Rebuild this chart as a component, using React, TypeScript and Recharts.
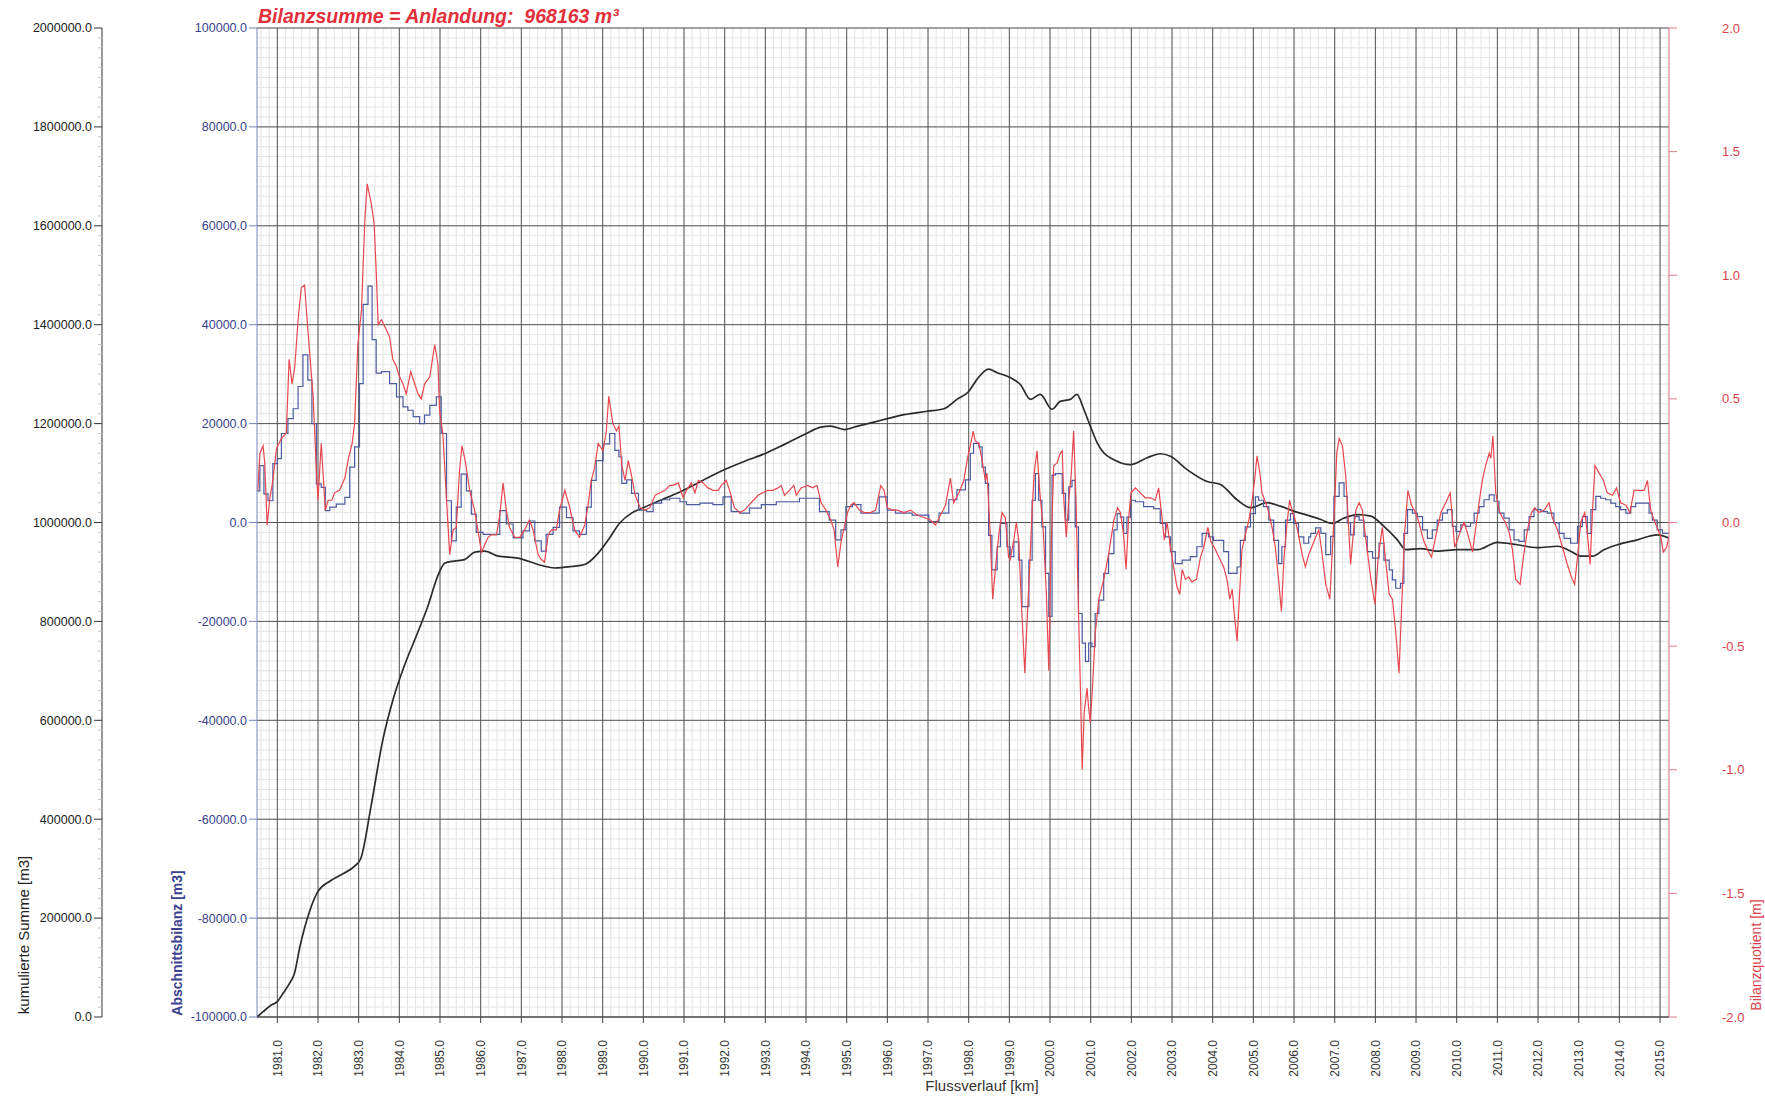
import React from 'react';
import { ComposedChart, Line, XAxis, YAxis, CartesianGrid } from 'recharts';

// Bilanzquotient [m] – red line, right axis
const quotient: [number, number][] = [
  [1980.52, 0.13], [1980.57, 0.28], [1980.65, 0.31], [1980.69, 0.24], [1980.75, -0.01], [1980.81, 0.09],
  [1980.89, 0.17], [1980.98, 0.3], [1981.1, 0.34], [1981.22, 0.36], [1981.29, 0.66], [1981.36, 0.56],
  [1981.43, 0.63], [1981.51, 0.82], [1981.59, 0.95], [1981.67, 0.96], [1981.75, 0.78], [1981.88, 0.51],
  [1981.96, 0.21], [1982.0, 0.09], [1982.08, 0.32], [1982.12, 0.21], [1982.18, 0.05], [1982.25, 0.09],
  [1982.34, 0.09], [1982.41, 0.12], [1982.53, 0.13], [1982.66, 0.18], [1982.75, 0.26], [1982.84, 0.32],
  [1982.9, 0.4], [1982.98, 0.72], [1983.07, 0.86], [1983.15, 1.22], [1983.21, 1.37], [1983.31, 1.29],
  [1983.38, 1.21], [1983.43, 1.02], [1983.48, 0.8], [1983.56, 0.82], [1983.68, 0.78], [1983.76, 0.75],
  [1983.84, 0.66], [1983.93, 0.63], [1983.98, 0.6], [1984.09, 0.56], [1984.17, 0.52], [1984.28, 0.61],
  [1984.38, 0.56], [1984.46, 0.52], [1984.54, 0.5], [1984.62, 0.56], [1984.75, 0.59], [1984.87, 0.72],
  [1984.95, 0.64], [1984.99, 0.45], [1985.07, 0.36], [1985.16, 0.09], [1985.24, -0.13], [1985.32, -0.03],
  [1985.4, -0.02], [1985.48, 0.21], [1985.54, 0.31], [1985.62, 0.25], [1985.73, 0.13], [1985.85, 0.05],
  [1985.93, -0.03], [1986.02, -0.12], [1986.1, -0.09], [1986.18, -0.06], [1986.26, -0.05], [1986.39, -0.05],
  [1986.47, 0.03], [1986.55, 0.16], [1986.63, 0.05], [1986.71, -0.02], [1986.84, -0.06], [1986.96, -0.06],
  [1987.08, -0.03], [1987.2, 0.01], [1987.29, -0.03], [1987.41, -0.13], [1987.49, -0.15], [1987.57, -0.16],
  [1987.66, -0.05], [1987.74, -0.03], [1987.86, -0.03], [1987.94, 0.05], [1988.07, 0.13], [1988.19, 0.06],
  [1988.31, -0.03], [1988.43, -0.06], [1988.56, -0.01], [1988.64, 0.07], [1988.72, 0.17], [1988.8, 0.22],
  [1988.89, 0.32], [1989.01, 0.29], [1989.09, 0.37], [1989.15, 0.51], [1989.25, 0.4], [1989.34, 0.37],
  [1989.4, 0.39], [1989.47, 0.23], [1989.55, 0.17], [1989.63, 0.25], [1989.71, 0.19], [1989.8, 0.11],
  [1989.92, 0.06], [1990.04, 0.05], [1990.16, 0.06], [1990.29, 0.11], [1990.41, 0.12], [1990.53, 0.13],
  [1990.65, 0.15], [1990.73, 0.15], [1990.86, 0.16], [1990.98, 0.1], [1991.06, 0.13], [1991.18, 0.16],
  [1991.27, 0.12], [1991.35, 0.17], [1991.47, 0.16], [1991.59, 0.14], [1991.71, 0.13], [1991.84, 0.13],
  [1991.92, 0.15], [1992.04, 0.17], [1992.12, 0.13], [1992.24, 0.06], [1992.37, 0.04], [1992.49, 0.05],
  [1992.65, 0.08], [1992.82, 0.11], [1992.94, 0.12], [1993.06, 0.13], [1993.18, 0.13], [1993.31, 0.14],
  [1993.39, 0.15], [1993.47, 0.11], [1993.59, 0.13], [1993.7, 0.15], [1993.76, 0.11], [1993.88, 0.14],
  [1994.04, 0.15], [1994.16, 0.14], [1994.27, 0.15], [1994.37, 0.08], [1994.49, 0.05], [1994.61, 0.01],
  [1994.69, -0.03], [1994.78, -0.18], [1994.86, -0.08], [1994.94, -0.02], [1995.02, 0.04], [1995.1, 0.07],
  [1995.18, 0.08], [1995.31, 0.05], [1995.43, 0.04], [1995.59, 0.04], [1995.71, 0.05], [1995.84, 0.15],
  [1995.92, 0.13], [1996.0, 0.06], [1996.12, 0.05], [1996.24, 0.05], [1996.41, 0.04], [1996.57, 0.05],
  [1996.73, 0.03], [1996.9, 0.02], [1997.06, 0.01], [1997.18, -0.01], [1997.31, 0.03], [1997.43, 0.07],
  [1997.55, 0.18], [1997.63, 0.08], [1997.76, 0.12], [1997.88, 0.17], [1997.96, 0.25], [1998.04, 0.31],
  [1998.11, 0.37], [1998.16, 0.33], [1998.25, 0.32], [1998.33, 0.25], [1998.41, 0.17], [1998.45, 0.2],
  [1998.53, -0.05], [1998.59, -0.31], [1998.66, -0.18], [1998.74, -0.05], [1998.82, 0.04], [1998.9, 0.02],
  [1998.98, -0.14], [1999.02, -0.15], [1999.11, -0.07], [1999.17, 0.0], [1999.23, -0.07], [1999.3, -0.34],
  [1999.38, -0.61], [1999.43, -0.42], [1999.5, -0.18], [1999.56, 0.05], [1999.61, 0.2], [1999.68, 0.29],
  [1999.75, 0.12], [1999.83, -0.02], [1999.91, -0.29], [1999.97, -0.6], [2000.02, -0.15], [2000.09, 0.23],
  [2000.17, 0.24], [2000.25, 0.28], [2000.3, 0.29], [2000.34, 0.09], [2000.4, -0.06], [2000.46, 0.09],
  [2000.52, 0.19], [2000.58, 0.37], [2000.64, 0.09], [2000.69, -0.29], [2000.75, -0.69], [2000.79, -1.0],
  [2000.84, -0.77], [2000.91, -0.67], [2000.95, -0.75], [2000.99, -0.81], [2001.05, -0.65], [2001.11, -0.45],
  [2001.2, -0.31], [2001.32, -0.23], [2001.44, -0.13], [2001.57, 0.01], [2001.66, 0.06], [2001.73, 0.04],
  [2001.81, -0.05], [2001.87, -0.19], [2001.93, 0.01], [2001.99, 0.12], [2002.1, 0.14], [2002.22, 0.12],
  [2002.34, 0.1], [2002.47, 0.1], [2002.59, 0.09], [2002.67, 0.14], [2002.74, 0.04], [2002.81, -0.07],
  [2002.88, 0.0], [2002.96, -0.1], [2003.04, -0.18], [2003.12, -0.26], [2003.19, -0.29], [2003.25, -0.19],
  [2003.33, -0.23], [2003.41, -0.22], [2003.49, -0.24], [2003.6, -0.23], [2003.7, -0.14], [2003.78, -0.1],
  [2003.88, -0.02], [2003.96, -0.08], [2004.04, -0.1], [2004.15, -0.14], [2004.27, -0.18], [2004.35, -0.23],
  [2004.42, -0.31], [2004.48, -0.27], [2004.53, -0.37], [2004.6, -0.48], [2004.66, -0.29], [2004.72, -0.11],
  [2004.8, -0.05], [2004.89, 0.01], [2004.97, 0.09], [2005.03, 0.17], [2005.09, 0.27], [2005.16, 0.2],
  [2005.21, 0.12], [2005.3, 0.08], [2005.38, 0.04], [2005.46, -0.02], [2005.54, -0.1], [2005.62, -0.23],
  [2005.69, -0.36], [2005.75, -0.15], [2005.83, 0.0], [2005.89, 0.09], [2005.95, 0.05], [2006.03, 0.01],
  [2006.11, -0.05], [2006.2, -0.13], [2006.28, -0.18], [2006.36, -0.13], [2006.41, -0.11], [2006.53, -0.06],
  [2006.61, -0.03], [2006.7, -0.14], [2006.78, -0.25], [2006.88, -0.31], [2006.94, -0.12], [2007.0, 0.08],
  [2007.05, 0.28], [2007.11, 0.34], [2007.19, 0.31], [2007.27, 0.19], [2007.33, 0.02], [2007.39, -0.17],
  [2007.46, -0.04], [2007.52, 0.05], [2007.6, 0.08], [2007.68, 0.05], [2007.76, -0.06], [2007.89, -0.23],
  [2007.99, -0.33], [2008.07, -0.14], [2008.17, -0.02], [2008.25, -0.15], [2008.34, -0.29], [2008.42, -0.31],
  [2008.5, -0.44], [2008.58, -0.61], [2008.65, -0.33], [2008.72, -0.04], [2008.8, 0.13], [2008.89, 0.07],
  [2008.99, 0.04], [2009.07, 0.0], [2009.18, -0.07], [2009.28, -0.11], [2009.38, -0.14], [2009.48, -0.06],
  [2009.61, 0.04], [2009.73, 0.08], [2009.84, 0.12], [2009.89, 0.02], [2009.95, -0.1], [2010.02, -0.07],
  [2010.1, -0.03], [2010.18, 0.0], [2010.26, -0.04], [2010.39, -0.12], [2010.47, -0.02], [2010.55, 0.08],
  [2010.63, 0.17], [2010.71, 0.23], [2010.8, 0.28], [2010.84, 0.26], [2010.89, 0.35], [2010.96, 0.12],
  [2011.04, 0.05], [2011.12, 0.02], [2011.2, 0.0], [2011.29, -0.04], [2011.37, -0.11], [2011.45, -0.23],
  [2011.56, -0.25], [2011.64, -0.14], [2011.74, -0.03], [2011.84, 0.04], [2011.92, 0.06], [2012.02, 0.04],
  [2012.15, 0.05], [2012.27, 0.08], [2012.35, 0.02], [2012.48, -0.03], [2012.6, -0.1], [2012.72, -0.17],
  [2012.82, -0.22], [2012.9, -0.25], [2012.97, -0.14], [2013.05, 0.0], [2013.15, 0.04], [2013.21, -0.04],
  [2013.28, -0.17], [2013.34, 0.05], [2013.4, 0.23], [2013.5, 0.2], [2013.61, 0.17], [2013.7, 0.12],
  [2013.83, 0.11], [2013.93, 0.14], [2014.03, 0.08], [2014.16, 0.07], [2014.26, 0.04], [2014.36, 0.13],
  [2014.48, 0.13], [2014.61, 0.13], [2014.69, 0.17], [2014.77, 0.05], [2014.85, 0.01], [2014.93, -0.02],
  [2015.02, -0.06], [2015.08, -0.12], [2015.16, -0.1], [2015.22, -0.06],
];

// Abschnittsbilanz [m3] – blue step line, value holds until the next year entry
const abschnitt: [number, number][] = [
  [1980.5, 6400], [1980.57, 11500], [1980.67, 5800], [1980.77, 4400], [1980.89, 11900], [1981.0, 12900],
  [1981.1, 18000], [1981.26, 21000], [1981.39, 23000], [1981.51, 27500], [1981.63, 33900], [1981.75, 28800],
  [1981.85, 20000], [1981.96, 7800], [1982.08, 7100], [1982.18, 2400], [1982.29, 3100], [1982.45, 3700],
  [1982.66, 5100], [1982.78, 11200], [1982.9, 15300], [1983.02, 28100], [1983.11, 44100], [1983.23, 47800],
  [1983.33, 37000], [1983.43, 30200], [1983.56, 30500], [1983.76, 28100], [1983.93, 25400], [1984.09, 23400],
  [1984.21, 22700], [1984.34, 21400], [1984.5, 20000], [1984.62, 21700], [1984.75, 23700], [1984.91, 25400],
  [1985.03, 18000], [1985.16, 4400], [1985.28, -3700], [1985.4, 3100], [1985.52, 9800], [1985.65, 6400],
  [1985.77, 1700], [1985.89, -2000], [1986.06, -2400], [1986.47, 2400], [1986.63, -300], [1986.8, -3100],
  [1987.04, -1700], [1987.2, 300], [1987.33, -3700], [1987.49, -5800], [1987.61, -2400], [1987.78, -1000],
  [1987.94, 3100], [1988.11, 1000], [1988.27, -1700], [1988.43, -2400], [1988.6, 3100], [1988.72, 8500],
  [1988.84, 12500], [1989.01, 15900], [1989.17, 18000], [1989.3, 14600], [1989.4, 13300], [1989.47, 7900],
  [1989.59, 8600], [1989.71, 5900], [1989.88, 2500], [1990.08, 2200], [1990.24, 3900], [1990.45, 4600],
  [1990.65, 4900], [1990.9, 4200], [1991.06, 3600], [1991.39, 3900], [1991.71, 3600], [1991.96, 5200],
  [1992.16, 2200], [1992.37, 1900], [1992.61, 2900], [1992.9, 3600], [1993.27, 4200], [1993.84, 4900],
  [1994.33, 2200], [1994.57, 500], [1994.73, -3500], [1994.86, -1500], [1994.98, 3200], [1995.14, 3600],
  [1995.35, 1900], [1995.8, 5200], [1996.0, 2500], [1996.2, 1900], [1996.61, 1500], [1997.02, 200],
  [1997.27, 1900], [1997.51, 4600], [1997.71, 6600], [1997.92, 8600], [1998.04, 14000], [1998.12, 16000],
  [1998.25, 15300], [1998.33, 11200], [1998.41, 7900], [1998.49, -2600], [1998.57, -9600], [1998.7, -4900],
  [1998.78, -200], [1998.94, -4900], [1999.02, -6900], [1999.11, -3900], [1999.23, -7600], [1999.31, -17000],
  [1999.48, -7600], [1999.56, 4500], [1999.64, 9900], [1999.72, 4500], [1999.8, -900], [1999.89, -10300],
  [1999.97, -19000], [2000.05, 9600], [2000.13, 9900], [2000.3, 5900], [2000.38, 500], [2000.46, 7200],
  [2000.54, 8500], [2000.62, -900], [2000.7, -18400], [2000.79, -24400], [2000.87, -28100], [2000.95, -24400],
  [2001.03, -25100], [2001.11, -18400], [2001.2, -15700], [2001.32, -10300], [2001.44, -6300], [2001.57, -1500],
  [2001.65, 1800], [2001.73, 1100], [2001.81, -2200], [2001.89, 1100], [2001.98, 4500], [2002.1, 4200],
  [2002.3, 3200], [2002.55, 2800], [2002.71, -200], [2002.84, -2900], [2002.96, -5900], [2003.08, -8300],
  [2003.25, -7600], [2003.45, -6900], [2003.61, -4900], [2003.74, -2200], [2003.9, -2900], [2004.02, -3600],
  [2004.27, -5900], [2004.39, -10300], [2004.6, -9000], [2004.68, -3600], [2004.8, -900], [2004.93, 1800],
  [2005.05, 5200], [2005.13, 4500], [2005.25, 3200], [2005.38, 500], [2005.5, -3600], [2005.62, -8300],
  [2005.7, -4900], [2005.79, 500], [2005.91, 1800], [2005.99, -200], [2006.11, -2900], [2006.24, -4200],
  [2006.36, -2900], [2006.41, -2200], [2006.53, -1100], [2006.66, -2200], [2006.78, -6500], [2006.9, -2800],
  [2006.98, 5300], [2007.11, 8000], [2007.23, 5300], [2007.31, -100], [2007.39, -2500], [2007.48, 1200],
  [2007.6, 500], [2007.72, -2800], [2007.8, -5900], [2007.93, -7200], [2008.09, -4200], [2008.21, -7600],
  [2008.34, -9600], [2008.42, -11600], [2008.5, -13300], [2008.62, -12300], [2008.7, -2200], [2008.79, 2600],
  [2008.91, 1900], [2009.03, 1200], [2009.16, -1500], [2009.28, -3200], [2009.4, -1500], [2009.52, 500],
  [2009.65, 1900], [2009.77, 2600], [2009.89, -800], [2009.98, -1800], [2010.1, -500], [2010.22, -800],
  [2010.34, -100], [2010.43, 1900], [2010.55, 3200], [2010.67, 4600], [2010.8, 5600], [2010.92, 4300],
  [2011.04, 1900], [2011.16, 900], [2011.29, -1500], [2011.41, -3500], [2011.53, -3800], [2011.66, -1500],
  [2011.78, 1200], [2011.9, 2600], [2012.07, 2200], [2012.23, 1900], [2012.39, -100], [2012.52, -2200],
  [2012.64, -3200], [2012.8, -4200], [2012.97, -800], [2013.09, 1200], [2013.21, -2200], [2013.3, 2600],
  [2013.42, 5300], [2013.54, 4900], [2013.66, 4600], [2013.79, 3900], [2013.91, 3200], [2014.03, 2600],
  [2014.16, 1900], [2014.28, 3200], [2014.4, 3900], [2014.73, 1900], [2014.81, 500], [2014.93, -1500],
  [2015.06, -2200], [2015.22, -2200],
];

// kumulierte Summe [m3] – black line, outer left axis
const kumuliert: [number, number][] = [
  [1980.5, 0], [1980.65, 10700], [1980.85, 24300], [1981.0, 31000], [1981.14, 48000], [1981.3, 68000],
  [1981.42, 88000], [1981.56, 144000], [1981.79, 213000], [1982.0, 254000], [1982.3, 275000], [1982.6, 289000],
  [1982.9, 305000], [1983.05, 320000], [1983.31, 429000], [1983.58, 555000], [1983.86, 646000], [1984.14, 714000],
  [1984.42, 771000], [1984.69, 828000], [1984.97, 897000], [1985.12, 918000], [1985.35, 922000], [1985.6, 925000],
  [1985.86, 940000], [1986.1, 942000], [1986.43, 932000], [1986.92, 928000], [1987.41, 915000], [1987.82, 908000],
  [1988.24, 911000], [1988.56, 915000], [1988.89, 938000], [1989.14, 965000], [1989.42, 999000], [1989.71, 1019000],
  [1990.0, 1030000], [1990.45, 1046000], [1990.86, 1060000], [1991.27, 1077000], [1991.67, 1094000], [1992.0, 1107000],
  [1992.49, 1124000], [1992.98, 1139000], [1993.47, 1158000], [1993.96, 1178000], [1994.37, 1193000], [1994.61, 1195000],
  [1994.94, 1188000], [1995.27, 1195000], [1995.67, 1203000], [1996.0, 1210000], [1996.41, 1218000], [1996.98, 1225000],
  [1997.39, 1230000], [1997.71, 1249000], [1998.0, 1265000], [1998.2, 1289000], [1998.49, 1310000], [1998.7, 1303000],
  [1999.02, 1293000], [1999.27, 1279000], [1999.52, 1249000], [1999.76, 1259000], [2000.05, 1229000], [2000.25, 1245000],
  [2000.5, 1249000], [2000.66, 1259000], [2000.83, 1229000], [2000.99, 1195000], [2001.16, 1161000], [2001.32, 1141000],
  [2001.57, 1127000], [2001.98, 1117000], [2002.39, 1131000], [2002.71, 1139000], [2002.96, 1134000], [2003.37, 1107000],
  [2003.86, 1083000], [2004.19, 1077000], [2004.6, 1046000], [2004.93, 1030000], [2005.34, 1040000], [2005.66, 1033000],
  [2005.99, 1023000], [2006.4, 1013000], [2006.66, 1006000], [2006.94, 998000], [2007.23, 1009000], [2007.56, 1016000],
  [2007.89, 1013000], [2008.21, 992000], [2008.54, 965000], [2008.75, 945000], [2009.11, 947000], [2009.52, 942000],
  [2010.02, 945000], [2010.51, 945000], [2011.0, 960000], [2011.49, 955000], [2011.98, 949000], [2012.48, 952000],
  [2012.8, 942000], [2013.05, 932000], [2013.34, 932000], [2013.62, 945000], [2013.95, 955000], [2014.44, 965000],
  [2014.93, 975000], [2015.22, 968163],
];

const yearTicks = [
  1981, 1982, 1983, 1984, 1985, 1986, 1987, 1988, 1989, 1990, 1991, 1992, 1993, 1994, 1995, 1996, 1997, 1998,
  1999, 2000, 2001, 2002, 2003, 2004, 2005, 2006, 2007, 2008, 2009, 2010, 2011, 2012, 2013, 2014, 2015,
];
const bilanzTicks = [-100000, -80000, -60000, -40000, -20000, 0, 20000, 40000, 60000, 80000, 100000];
const quotientTicks = [-2, -1.5, -1, -0.5, 0, 0.5, 1, 1.5, 2];
const cumTicks = Array.from({ length: 101 }, (_, i) => i * 20000);

// fine grid of the graph paper
const minorY = Array.from({ length: 101 }, (_, i) => -100000 + i * 2000);
const minorX = Array.from({ length: 174 }, (_, i) => 1980.6 + i * 0.2);

const quotData = quotient.map(([year, q]) => ({ year, q }));
const bilData = abschnitt.map(([year, v]) => ({ year, v }));
const cumData = kumuliert.map(([year, c]) => ({ year, c }));

const BLUE = '#3a3f8f';
const RED = '#dc3f4d';

const YearTick = ({ x, y, payload }: any) => (
  <text x={x} y={y} transform={`rotate(-90 ${x} ${y})`} textAnchor="end" dy="0.35em" fontSize={12} fill="#333">
    {Number(payload.value).toFixed(1)}
  </text>
);

const CumTick = ({ x, y, payload }: any) => {
  const major = payload.value % 200000 === 0;
  return (
    <g>
      <line x1={x + (major ? 2 : 6)} x2={x + 10} y1={y} y2={y} stroke={major ? '#333' : '#c4c4c4'} />
      {major && (
        <text x={x} y={y} dy="0.35em" textAnchor="end" fontSize={12.5} fill="#222">
          {Number(payload.value).toFixed(1)}
        </text>
      )}
    </g>
  );
};

export default function App() {
  return (
    <div
      style={{
        position: 'absolute',
        left: 0,
        top: 0,
        width: 1765,
        height: 1100,
        background: '#fff',
        fontFamily: "'Liberation Sans', Arial, sans-serif",
      }}
    >
      <ComposedChart width={1765} height={1100} margin={{ top: 28, right: 0, bottom: 0, left: 0 }}>
        <CartesianGrid xAxisId="x" yAxisId="bil" horizontalValues={minorY} verticalValues={minorX} stroke="#e3e3e3" />
        <CartesianGrid xAxisId="x" yAxisId="bil" horizontalValues={bilanzTicks} verticalValues={yearTicks} stroke="#555" />
        <XAxis
          xAxisId="x"
          dataKey="year"
          type="number"
          domain={[1980.5, 2015.22]}
          allowDataOverflow
          ticks={yearTicks}
          interval={0}
          height={83}
          tickSize={6}
          tickMargin={17}
          tick={<YearTick />}
          stroke="#444"
        />
        <YAxis
          yAxisId="bil"
          orientation="left"
          type="number"
          domain={[-100000, 100000]}
          ticks={bilanzTicks}
          interval={0}
          width={155}
          tickSize={8}
          tickMargin={2}
          tickFormatter={(v: number) => v.toFixed(1)}
          tick={{ fill: BLUE, fontSize: 12.5 }}
          stroke="#7a82c0"
        />
        <YAxis
          yAxisId="cum"
          orientation="left"
          type="number"
          domain={[0, 2000000]}
          ticks={cumTicks}
          interval={0}
          width={102}
          tickSize={8}
          tickMargin={2}
          tickLine={false}
          tick={<CumTick />}
          stroke="#333"
        />
        <YAxis
          yAxisId="q"
          orientation="right"
          type="number"
          domain={[-2, 2]}
          ticks={quotientTicks}
          interval={0}
          width={96}
          tickSize={8}
          tickMargin={45}
          tickFormatter={(v: number) => v.toFixed(1)}
          tick={{ fill: RED, fontSize: 13 }}
          stroke="#e27d89"
        />
        <Line
          xAxisId="x"
          yAxisId="cum"
          data={cumData}
          dataKey="c"
          type="monotone"
          stroke="#2b2b2b"
          strokeWidth={1.7}
          dot={false}
          isAnimationActive={false}
        />
        <Line
          xAxisId="x"
          yAxisId="bil"
          data={bilData}
          dataKey="v"
          type="stepAfter"
          stroke="#4b5b9f"
          strokeWidth={1.2}
          dot={false}
          isAnimationActive={false}
        />
        <Line
          xAxisId="x"
          yAxisId="q"
          data={quotData}
          dataKey="q"
          type="linear"
          stroke="#e8474f"
          strokeWidth={1.2}
          dot={false}
          isAnimationActive={false}
        />
      </ComposedChart>
      <svg width={1765} height={1100} style={{ position: 'absolute', left: 0, top: 0, pointerEvents: 'none' }}>
        <text
          x={258}
          y={23}
          fontSize={19.5}
          fontWeight="bold"
          fontStyle="italic"
          fill="#e32f3c"
          style={{ whiteSpace: 'pre' }}
        >
          {'Bilanzsumme = Anlandung:  968163 m³'}
        </text>
        <text x={24} y={935} transform="rotate(-90 24 935)" textAnchor="middle" dy="0.35em" fontSize={15} fill="#222">
          kumulierte Summe [m3]
        </text>
        <text x={177} y={943} transform="rotate(-90 177 943)" textAnchor="middle" dy="0.35em" fontSize={14} fontWeight="bold" fill={BLUE}>
          Abschnittsbilanz [m3]
        </text>
        <text x={1756} y={955} transform="rotate(-90 1756 955)" textAnchor="middle" dy="0.35em" fontSize={14} fill={RED}>
          Bilanzquotient [m]
        </text>
        <text x={982} y={1091} textAnchor="middle" fontSize={15} fill="#333">
          Flussverlauf [km]
        </text>
      </svg>
    </div>
  );
}
